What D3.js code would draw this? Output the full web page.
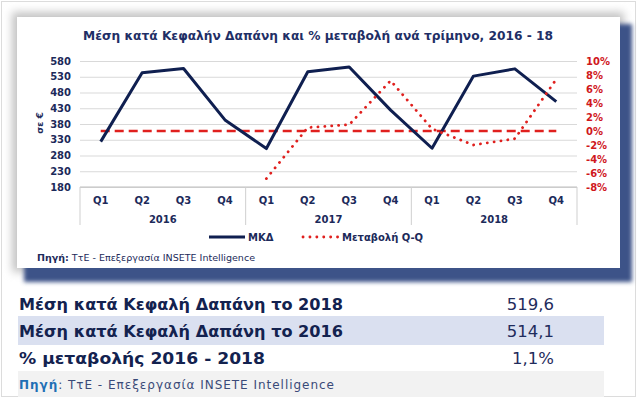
<!DOCTYPE html>
<html>
<head>
<meta charset="utf-8">
<script src="https://cdn.jsdelivr.net/npm/d3@7"></script>
<style>
  body { margin: 0; background: #fff; }
  text { font-family: "DejaVu Sans", Verdana, sans-serif; }
</style>
</head>
<body>
<svg id="chart" width="638" height="399"></svg>
<script>
// data
const quarters = ['Q1', 'Q2', 'Q3', 'Q4', 'Q1', 'Q2', 'Q3', 'Q4', 'Q1', 'Q2', 'Q3', 'Q4'];
const years = ['2016', '2017', '2018'];
const mkd = [324, 543, 556, 393, 302, 546, 561, 424, 303, 532, 555, 451];
const changeQQ = [null, null, null, null, -6.8, 0.5, 0.9, 7.2, 0.3, -2.0, -1.1, 7.4];
const zeroLine = [0, 0, 0, 0, 0, 0, 0, 0, 0, 0, 0, 0];
const leftTicks = [180, 230, 280, 330, 380, 430, 480, 530, 580];
const rightTicks = [-8, -6, -4, -2, 0, 2, 4, 6, 8, 10];
const tableLabels = ['Μέση κατά Κεφαλή Δαπάνη το 2018', 'Μέση κατά Κεφαλή Δαπάνη το 2016', '% μεταβολής 2016 - 2018'];
const tableValues = ['519,6', '514,1', '1,1%'];

const navy = '#1c2a5a';
const red = '#e0201e';

const svg = d3.select('#chart');
const defs = svg.append('defs');

defs.append('filter').attr('id', 'blueBlur')
    .attr('x', '-5%').attr('y', '-5%').attr('width', '110%').attr('height', '110%')
  .append('feGaussianBlur').attr('stdDeviation', 2.2);
defs.append('filter').attr('id', 'grayBlur')
    .attr('x', '-5%').attr('y', '-5%').attr('width', '110%').attr('height', '110%')
  .append('feGaussianBlur').attr('stdDeviation', 4);

// outer frame
svg.append('rect').attr('x', 1.5).attr('y', 1.5).attr('width', 634).attr('height', 395)
    .attr('fill', 'none').attr('stroke', '#dcdcdc');

// card shadows and card
svg.append('rect').attr('x', 12).attr('y', 12).attr('width', 612).attr('height', 260)
    .attr('fill', '#c4c4c4').attr('filter', 'url(#grayBlur)');
svg.append('rect').attr('x', 24).attr('y', 24).attr('width', 608).attr('height', 258)
    .attr('fill', '#3e5288').attr('filter', 'url(#blueBlur)');
svg.append('rect').attr('x', 17).attr('y', 17).attr('width', 603).attr('height', 251)
    .attr('fill', '#fff');

// title
svg.append('text').attr('x', 83).attr('y', 40)
    .attr('font-size', 12.5).attr('font-weight', 'bold').attr('fill', '#1f2f66')
    .attr('textLength', 470).attr('lengthAdjust', 'spacingAndGlyphs')
    .text('Μέση κατά Κεφαλήν Δαπάνη και % μεταβολή ανά τρίμηνο, 2016 - 18');

// scales
const plotL = 80, plotR = 577, plotT = 61, plotB = 187;
const x = d3.scaleBand().domain(d3.range(quarters.length)).range([plotL, plotR]);
const yL = d3.scaleLinear().domain([180, 580]).range([plotB, plotT]);
const yR = d3.scaleLinear().domain([-8, 10]).range([plotB, plotT]);
const cx = i => x(i) + x.bandwidth() / 2;

// left axis with gridlines
const gLeft = svg.append('g').attr('transform', `translate(${plotL},0)`)
    .call(d3.axisLeft(yL).tickValues(leftTicks).tickSize(-(plotR - plotL)).tickPadding(9));
gLeft.select('.domain').remove();
gLeft.selectAll('.tick line').attr('stroke', '#d9d9d9');
gLeft.selectAll('.tick text').attr('font-size', 10).attr('font-weight', 'bold')
    .attr('fill', navy).attr('font-family', '"DejaVu Sans", Verdana, sans-serif');

// right axis
const gRight = svg.append('g').attr('transform', `translate(${plotR},0)`)
    .call(d3.axisRight(yR).tickValues(rightTicks).tickSize(0).tickPadding(9).tickFormat(d => d + '%'));
gRight.select('.domain').remove();
gRight.selectAll('.tick text').attr('font-size', 10).attr('font-weight', 'bold')
    .attr('fill', '#d0181c').attr('font-family', '"DejaVu Sans", Verdana, sans-serif');

// y axis title
svg.append('text').attr('transform', 'translate(43,123) rotate(-90)')
    .attr('text-anchor', 'middle').attr('font-size', 9).attr('font-weight', 'bold')
    .attr('fill', navy).text('σε €');

// category axis
const catG = svg.append('g');
catG.append('line').attr('x1', plotL).attr('x2', plotR).attr('y1', plotB).attr('y2', plotB)
    .attr('stroke', '#bfbfbf');
[0, 4, 8, 12].forEach(k => {
    const xx = k < 12 ? x(k) : plotR;
    catG.append('line').attr('x1', xx).attr('x2', xx).attr('y1', plotB).attr('y2', 225)
        .attr('stroke', '#cfcfcf');
});
catG.selectAll('.q').data(quarters).enter().append('text')
    .attr('x', (d, i) => cx(i)).attr('y', 204)
    .attr('text-anchor', 'middle').attr('font-size', 10).attr('font-weight', 'bold')
    .attr('fill', navy).text(d => d);
catG.selectAll('.yr').data(years).enter().append('text')
    .attr('x', (d, i) => (x(i * 4) + x(i * 4 + 3) + x.bandwidth()) / 2).attr('y', 223)
    .attr('text-anchor', 'middle').attr('font-size', 10).attr('font-weight', 'bold')
    .attr('fill', navy).text(d => d);

// lines
const lineL = d3.line().x((d, i) => cx(i)).y(d => yL(d));
const lineR = d3.line().defined(d => d !== null).x((d, i) => cx(i)).y(d => yR(d));

svg.append('path').datum(zeroLine).attr('d', lineR)
    .attr('fill', 'none').attr('stroke', red).attr('stroke-width', 2.4)
    .attr('stroke-dasharray', '9,5');
svg.append('path').datum(mkd).attr('d', lineL)
    .attr('fill', 'none').attr('stroke', '#0f1f50').attr('stroke-width', 3)
    .attr('stroke-linejoin', 'round');
svg.append('path').datum(changeQQ).attr('d', lineR)
    .attr('fill', 'none').attr('stroke', red).attr('stroke-width', 2.8)
    .attr('stroke-linecap', 'round').attr('stroke-dasharray', '0.1,6.8');

// legend
const legend = svg.append('g');
legend.append('line').attr('x1', 209).attr('x2', 245).attr('y1', 237).attr('y2', 237)
    .attr('stroke', '#0f1f50').attr('stroke-width', 3);
legend.append('text').attr('x', 248).attr('y', 241).attr('font-size', 10).attr('font-weight', 'bold')
    .attr('fill', navy).text('ΜΚΔ');
legend.append('line').attr('x1', 303).attr('x2', 338).attr('y1', 237).attr('y2', 237)
    .attr('stroke', red).attr('stroke-width', 2.8).attr('stroke-linecap', 'round')
    .attr('stroke-dasharray', '0.1,6.8');
legend.append('text').attr('x', 342).attr('y', 241).attr('font-size', 10).attr('font-weight', 'bold')
    .attr('fill', navy).text('Μεταβολή Q-Q');

// source inside card
const src = svg.append('text').attr('x', 37).attr('y', 261).attr('font-size', 9.5).attr('fill', navy)
    .attr('textLength', 218).attr('lengthAdjust', 'spacingAndGlyphs');
src.append('tspan').attr('font-weight', 'bold').text('Πηγή:');
src.append('tspan').text(' ΤτΕ - Επεξεργασία INSETE Intelligence');

// table below
const rowY = [304, 331, 358];
svg.append('rect').attr('x', 18).attr('y', 316).attr('width', 586).attr('height', 29).attr('fill', '#dae0f0');
svg.append('rect').attr('x', 18).attr('y', 371).attr('width', 586).attr('height', 26).attr('fill', '#f2f2f2');
const labelWidths = [324, 324, 246];
svg.selectAll('.tl').data(tableLabels).enter().append('text')
    .attr('x', 19).attr('y', (d, i) => rowY[i] + 6)
    .attr('font-size', 16.5).attr('font-weight', 'bold').attr('fill', '#13224f')
    .attr('textLength', (d, i) => labelWidths[i]).attr('lengthAdjust', 'spacingAndGlyphs')
    .text(d => d);
svg.selectAll('.tv').data(tableValues).enter().append('text')
    .attr('x', 554).attr('y', (d, i) => rowY[i] + 6)
    .attr('text-anchor', 'end').attr('font-size', 16.5).attr('fill', '#1f2c5c')
    .text(d => d);
const src2 = svg.append('text').attr('x', 19).attr('y', 389).attr('font-size', 12)
    .attr('textLength', 315).attr('lengthAdjust', 'spacing');
src2.append('tspan').attr('fill', '#1f6fb5').attr('font-weight', 'bold').text('Πηγή');
src2.append('tspan').attr('fill', '#3a4a78').text(': ΤτΕ - Επεξεργασία INSETE Intelligence');
</script>
</body>
</html>
